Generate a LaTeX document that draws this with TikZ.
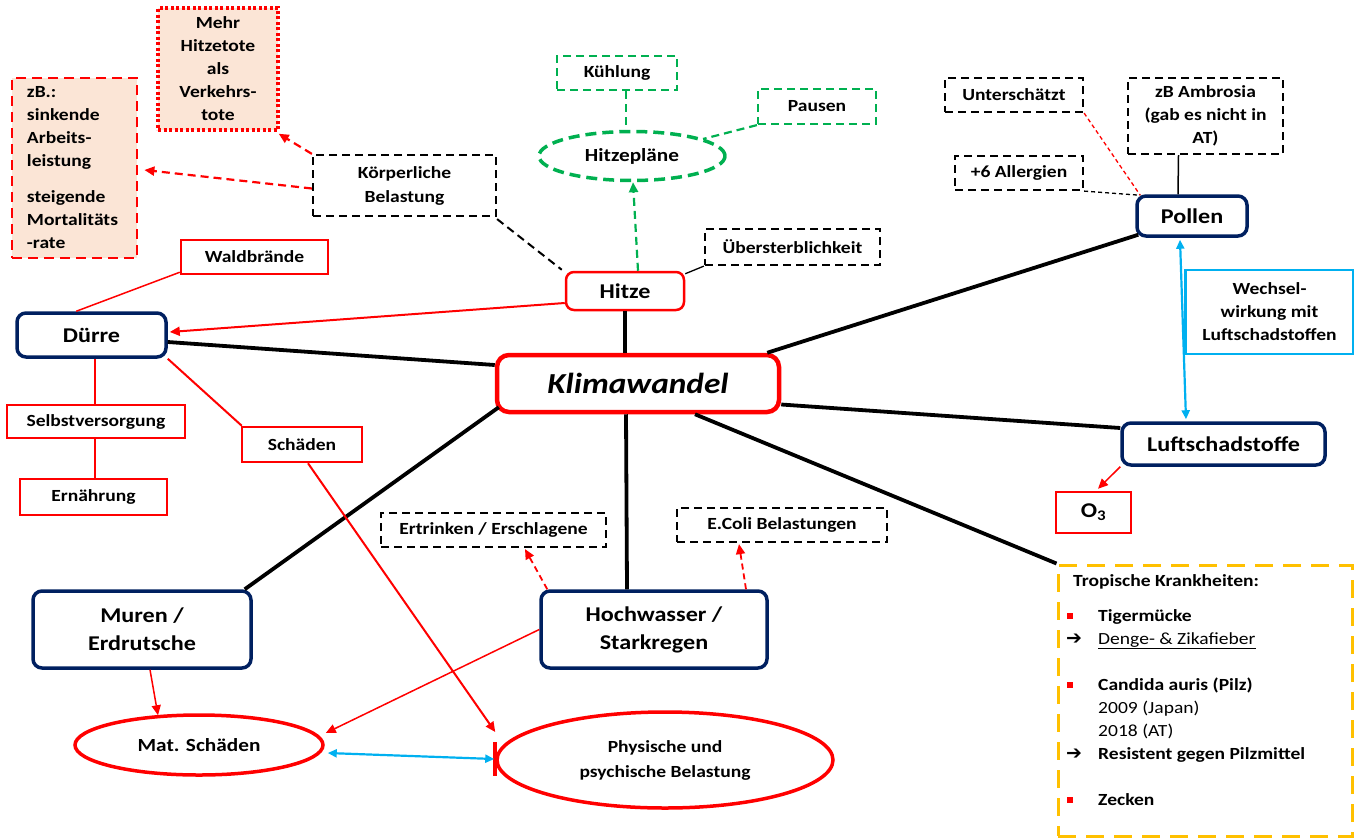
\documentclass[tikz,border=0pt]{standalone}
\usepackage{fontspec}
\setmainfont{Carlito}[FakeStretch=1.15]
\newfontfamily\symfont{DejaVu Sans}
\usetikzlibrary{arrows.meta,calc,shapes.geometric}

\definecolor{mred}{HTML}{FF0000}
\definecolor{mnavy}{HTML}{002060}
\definecolor{mpeach}{HTML}{FBE5D6}
\definecolor{mgreen}{HTML}{00B050}
\definecolor{mblue}{HTML}{00B0F0}
\definecolor{morange}{HTML}{FFC000}

\newcommand\lblfont{\fontsize{17}{23}\selectfont\bfseries}
\newcommand\hdfont{\fontsize{21}{28}\selectfont\bfseries}
\newcommand\bulletmark{\makebox[32pt][l]{\hspace*{1pt}\textcolor{mred}{\rule[2pt]{6pt}{6pt}}}}
\newcommand\arrowmark{\makebox[32pt][l]{{\symfont\fontsize{19}{23}\selectfont ➔}}}
\newcommand\indentmark{\hspace*{32pt}}

\tikzset{
  base/.style={align=center, inner sep=0pt, font=\lblfont},
  redbox/.style={base, draw=mred, line width=2.5pt},
  dashbox/.style={base, draw=black, line width=2.2pt, dash pattern=on 8pt off 5pt},
  greenbox/.style={base, draw=mgreen, line width=2.2pt, dash pattern=on 8pt off 5pt},
  navybox/.style={base, font=\hdfont, draw=mnavy, line width=3.5pt, rounded corners=9pt},
  oval/.style={base, ellipse, draw=mred, line width=3.5pt},
  trunk/.style={black, line width=3.8pt},
  redlink/.style={mred, line width=2pt},
  thinred/.style={mred, line width=1.5pt},
  tip/.style={-{Triangle[length=10pt,width=9pt]}},
  bluearrow/.style={mblue, line width=2.2pt, {Triangle[length=9pt,width=8pt]}-{Triangle[length=9pt,width=8pt]}},
}

\begin{document}
\begin{tikzpicture}[x=1pt,y=-1pt]
\useasboundingbox (0,0) rectangle (1354,838);

% ---------- central node ----------
\node[base, draw=mred, line width=4.5pt, rounded corners=12pt,
      minimum width=282pt, minimum height=57pt,
      font=\fontsize{29}{34}\selectfont\bfseries\itshape] (klima) at (638,383.5) {Klimawandel};

% ---------- heat branch ----------
\node[base, draw=mred, line width=2.5pt, rounded corners=8pt, font=\hdfont,
      minimum width=118pt, minimum height=38pt] (hitze) at (625,291) {Hitze};
\node[dashbox, minimum width=175pt, minimum height=36pt] (ueber) at (792.5,247) {Übersterblichkeit};
\node[base, ellipse, draw=mgreen, line width=3.5pt, dash pattern=on 11pt off 6pt,
      minimum width=186pt, minimum height=49pt, font=\fontsize{18.5}{23}\selectfont\bfseries] (hp) at (632,156) {Hitzepläne};
\node[greenbox, minimum width=120pt, minimum height=34pt] (kuehl) at (617,73) {Kühlung};
\node[greenbox, minimum width=118pt, minimum height=35pt] (pausen) at (817,106.5) {Pausen};
\node[dashbox, minimum width=183pt, minimum height=61pt, font=\fontsize{17}{24}\selectfont\bfseries]
      (koerp) at (404.5,185.5) {Körperliche\\Belastung};
\node[base, draw=mred, fill=mpeach, line width=3.5pt, dash pattern=on 3pt off 2.5pt,
      minimum width=120pt, minimum height=122pt] (mehr) at (218,69)
      {\rule{0pt}{10pt}Mehr\\Hitzetote\\als\\Verkehrs-\\tote};
\node[base, draw=mred, fill=mpeach, line width=2.8pt, dash pattern=on 10pt off 6pt,
      minimum width=125pt, minimum height=180pt, align=left, text width=95pt] (zb) at (74.5,168)
      {\rule{0pt}{10pt}zB.:\\sinkende\\Arbeits-\\leistung\\[13pt]steigende\\Mortalitäts\\-rate};

% ---------- drought branch ----------
\node[navybox, minimum width=149pt, minimum height=44pt] (duerre) at (91.5,335) {Dürre};
\node[redbox, minimum width=147pt, minimum height=34pt] (wald) at (254.5,257) {Waldbrände};
\node[redbox, minimum width=178pt, minimum height=33pt] (selbst) at (96,421.5) {Selbstversorgung};
\node[redbox, minimum width=147pt, minimum height=36pt] (ern) at (93.5,497) {Ernährung};
\node[redbox, minimum width=120pt, minimum height=35pt] (schaeden) at (302,444.5) {Schäden};

% ---------- water and landslides ----------
\node[navybox, minimum width=218pt, minimum height=77pt] (muren) at (142,629.5) {Muren /\\Erdrutsche};
\node[navybox, minimum width=226pt, minimum height=77pt] (hoch) at (654,629.5) {Hochwasser /\\Starkregen};
\node[dashbox, minimum width=225pt, minimum height=34pt] (ertr) at (493.5,530) {Ertrinken / Erschlagene};
\node[dashbox, minimum width=210pt, minimum height=34pt] (ecoli) at (782,525) {E.Coli Belastungen};
\node[oval, minimum width=248pt, minimum height=60pt, font=\fontsize{18.5}{24}\selectfont\bfseries]
      (mat) at (199,745) {Mat. Schäden};
\node[oval, minimum width=336pt, minimum height=96pt, font=\fontsize{17}{25}\selectfont\bfseries]
      (phys) at (665,760) {Physische und\\psychische Belastung};

% ---------- pollen and air pollutants ----------
\node[navybox, minimum width=110pt, minimum height=40pt] (pollen) at (1192,216) {\raisebox{-4pt}{Pollen}};
\node[dashbox, minimum width=138pt, minimum height=34pt] (unter) at (1014,95) {Unterschätzt};
\node[dashbox, minimum width=155pt, minimum height=76pt] (ambr) at (1205.5,116)
      {zB Ambrosia\\(gab es nicht in\\AT)};
\node[dashbox, minimum width=128pt, minimum height=34pt] (allerg) at (1019,173) {+6 Allergien};
\node[base, draw=mblue, line width=2.2pt, minimum width=168pt, minimum height=84pt] (wechsel)
      at (1269.5,312) {Wechsel-\\wirkung mit\\Luftschadstoffen};
\node[navybox, minimum width=203pt, minimum height=42pt] (luft) at (1223.5,444) {Luftschadstoffe};
\node[redbox, minimum width=75pt, minimum height=41pt, font=\hdfont] (ozon) at (1093.5,512.5) {O\textsubscript{3}};

% ---------- tropical diseases ----------
\node[base, draw=morange, line width=3pt, dash pattern=on 18pt off 10pt,
      minimum width=294pt, minimum height=271pt] (trop) at (1205,700.5) {};
\node[base, anchor=north west, align=left, font=\fontsize{17}{23}\selectfont\bfseries]
      (troptext) at (1066,574) {%
  \hspace*{7pt}Tropische Krankheiten:\\[12pt]
  \bulletmark Tigermücke\\
  \arrowmark{\mdseries\underline{Denge- \& Zikafieber}}\\[23pt]
  \bulletmark Candida auris (Pilz)\\
  \indentmark{\mdseries 2009 (Japan)}\\
  \indentmark{\mdseries 2018 (AT)}\\
  \arrowmark Resistent gegen Pilzmittel\\[23pt]
  \bulletmark Zecken};

% ---------- main spokes ----------
\draw[trunk] (hitze.south) -- ($(klima.north)+(-13,0)$);
\draw[trunk] ($(duerre.east)+(0,7)$) -- ($(klima.west)+(0,-18.5)$);
\draw[trunk] ($(klima.south west)+(4,-7)$) -- ($(muren.north east)+(-8,0)$);
\draw[trunk] ($(klima.south)+(-12,0)$) -- ($(hoch.north)+(-27,0)$);
\draw[trunk] ($(klima.south)+(57,0)$) -- (trop.north west);
\draw[trunk] ($(klima.east)+(0,21)$) -- ($(luft.west)+(0,-16)$);
\draw[trunk] ($(klima.north east)+(-14,0)$) -- ($(pollen.south west)+(3,-3)$);

% ---------- heat links ----------
\draw[redlink, tip] ($(hitze.west)+(0,12)$) -- ($(duerre.east)+(2,-3)$);
\draw[black, line width=2pt, dash pattern=on 8pt off 5pt] ($(koerp.south east)+(0,2)$) -- ($(hitze.north west)+(-3,-1)$);
\draw[mred, line width=2.2pt, dash pattern=on 8pt off 5pt, tip] ($(koerp.west)+(0,3)$) -- ($(zb.east)+(6,2)$);
\draw[mred, line width=2.2pt, dash pattern=on 8pt off 5pt, tip] (koerp.north west) -- ($(mehr.south east)+(-1,2)$);
\draw[black, line width=1.3pt] ($(hitze.north east)+(0,3)$) -- (ueber.south west);
\draw[mgreen, line width=2.2pt, dash pattern=on 8pt off 5pt, tip] ($(hitze.north)+(13,0)$) -- ($(hp.south)+(1,0)$);
\draw[mgreen, line width=2.2pt, dash pattern=on 8pt off 5pt] ($(kuehl.south)+(9,0)$) -- ($(hp.north)+(-6,0)$);
\draw[mgreen, line width=2.2pt, dash pattern=on 8pt off 5pt] (pausen.south west) -- ($(hp.center)+(71,-17)$);

% ---------- drought links ----------
\draw[thinred] ($(duerre.north west)+(61,0)$) -- ($(wald.south west)+(0,-3)$);
\draw[mred, line width=2.5pt] ($(duerre.south)+(3.5,0)$) -- ($(selbst.north)+(-1,0)$);
\draw[mred, line width=2.5pt] ($(selbst.south)+(-1,0)$) -- ($(ern.north)+(1.5,0)$);
\draw[redlink] (duerre.south east) -- ($(schaeden.north west)+(1,0)$);
\draw[redlink, tip] ($(schaeden.south)+(6,0)$) -- ($(phys.west)+(0,-28)$);
\draw[mred, line width=4pt] ($(phys.west)+(0,-18)$) -- ($(phys.west)+(0,16)$);

% ---------- water and landslide links ----------
\draw[thinred, tip] ($(muren.south)+(8,0)$) -- ($(mat.north)+(-41,2)$);
\draw[thinred, tip] (hoch.west) -- ($(mat.east)+(1,-12)$);
\draw[bluearrow] ($(mat.east)+(3,8)$) -- ($(phys.west)+(-1,-1)$);
\draw[mred, line width=1.8pt, dash pattern=on 6pt off 4pt, tip] ($(hoch.north west)+(8,0)$) -- ($(ertr.south)+(31.5,1)$);
\draw[mred, line width=1.8pt, dash pattern=on 6pt off 4pt, tip] ($(hoch.north)+(92,0)$) -- ($(ecoli.south)+(-43,1)$);

% ---------- pollen and pollutant links ----------
\draw[mred, line width=1.3pt, dash pattern=on 4pt off 3pt] (unter.south east) -- ($(pollen.north west)+(5,1)$);
\draw[black, line width=1.3pt, dash pattern=on 4pt off 3pt] (allerg.south east) -- ($(pollen.north west)+(5,1)$);
\draw[black, line width=1.5pt] ($(ambr.south)+(-27,0)$) -- ($(pollen.north)+(-14,0)$);
\draw[bluearrow] ($(pollen.south)+(-12,2)$) -- ($(luft.north)+(-37.5,-2)$);
\draw[thinred, tip] (luft.south west) -- ($(ozon.north)+(4.5,-2)$);

\end{tikzpicture}
\end{document}
